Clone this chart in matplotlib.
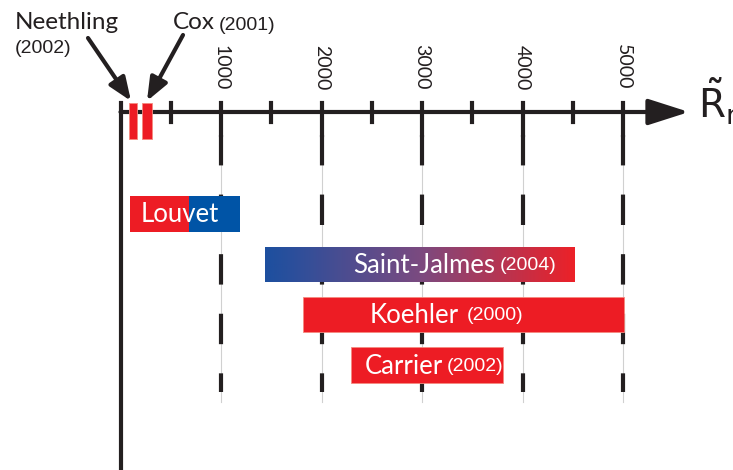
import matplotlib.pyplot as plt
import numpy as np
from matplotlib.colors import LinearSegmentedColormap

# data (R_m ranges)
names = ['Neethling', 'Cox', 'Louvet', 'Saint-Jalmes', 'Koehler', 'Carrier']
years = ['(2002)', '(2001)', '', '(2004)', '(2000)', '(2002)']
r_start = [80, 210, 90, 1435, 1815, 2290]
r_end = [160, 310, 1185, 4510, 5010, 3810]
louvet_split = 685
major_ticks = [1000, 2000, 3000, 4000, 5000]
minor_ticks = [500, 1500, 2500, 3500, 4500]

red = '#ed1c24'
blue = '#0054a6'
ink = '#231f20'
name_font = 'Lato'
year_font = 'Liberation Sans'

# pixel layout: x0 at px 120.5, 0.1005 px per unit, y in pixel rows
px0, scale = 120.5, 0.1005
fig = plt.figure(figsize=(7.33, 4.70), dpi=100)
ax = fig.add_axes([0, 0, 1, 1])
ax.set_xlim(-px0 / scale, (733 - px0) / scale)
ax.set_ylim(470, 0)
ax.axis('off')

def dx(px):
    return (px - px0) / scale

axis_y = 112

# grid lines
for t in major_ticks:
    ax.plot([t, t], [axis_y, 402], color='#d0d0d0', lw=0.8, zorder=1)
    ax.plot([t, t], [135, 392], color=ink, lw=3, zorder=2,
            linestyle=(0, (7.3, 7.0)))
    ax.plot([t, t], [103, 135], color=ink, lw=3, zorder=3)
for t in minor_ticks:
    ax.plot([t, t], [103, 122], color=ink, lw=3, zorder=3)

# axes
ax.plot([0, 0], [103, 470], color=ink, lw=3, zorder=3)
ax.annotate('', xy=(dx(689), axis_y), xytext=(0, axis_y),
            arrowprops=dict(arrowstyle='-|>,head_length=1.0,head_width=0.32',
                            lw=3, color=ink, shrinkA=0, shrinkB=0,
                            mutation_scale=25), zorder=3)
ax.text(dx(698), 119, r'$\tilde{\mathrm{R}}_\mathrm{m}$', fontsize=28, color=ink,
        ha='left', va='baseline', zorder=3)

for t in major_ticks:
    ax.text(t, 90, str(t), rotation=270, ha='center', va='bottom',
            fontsize=14, family=name_font, color=ink)

# small bars on the axis
for i in [0, 1]:
    ax.bar((r_start[i] + r_end[i]) / 2, 36, width=r_end[i] - r_start[i],
           bottom=103, color=red, edgecolor='#f58a80', lw=0.6, zorder=4)

ax.text(dx(15), 29, names[0], fontsize=17.5, family=name_font, color=ink)
ax.text(dx(15), 53, years[0], fontsize=14, family=year_font, color=ink)
ax.text(dx(173), 29, names[1], fontsize=17.5, family=name_font, color=ink)
ax.text(dx(219), 30, years[1], fontsize=14, family=year_font, color=ink)
arrow = dict(arrowstyle='-|>,head_length=1.0,head_width=0.4', lw=3,
             color=ink, shrinkA=0, shrinkB=0, mutation_scale=14)
ax.annotate('', xy=(dx(131), 101), xytext=(dx(88), 38), arrowprops=arrow)
ax.annotate('', xy=(dx(147), 101), xytext=(dx(183), 35), arrowprops=arrow)

# big bars
rows = {2: (196, 232), 3: (247, 282), 4: (297, 332), 5: (347, 383)}

top, bot = rows[2]
ax.bar((r_start[2] + louvet_split) / 2, bot - top, width=louvet_split - r_start[2],
       bottom=top, color=red, lw=0, zorder=4)
ax.bar((louvet_split + r_end[2]) / 2, bot - top, width=r_end[2] - louvet_split,
       bottom=top, color=blue, lw=0, zorder=4)

top, bot = rows[3]
cmap = LinearSegmentedColormap.from_list(
    'sj', [(0, '#1d4f9f'), (0.08, '#2a4f9c'), (0.5, '#7b4a80'), (1, '#ec2128')])
grad = np.linspace(0, 1, 256).reshape(1, -1)
ax.imshow(grad, cmap=cmap, aspect='auto', zorder=4,
          extent=(r_start[3], r_end[3], bot, top))

for i in [4, 5]:
    top, bot = rows[i]
    ax.bar((r_start[i] + r_end[i]) / 2, bot - top, width=r_end[i] - r_start[i],
           bottom=top, color=red, edgecolor='#f58a80', lw=0.6, zorder=4)

# bar labels
name_x = {2: 180, 3: 495, 4: 459, 5: 443}
year_x = {3: 500, 4: 467, 5: 447}
ax.text(dx(name_x[2]), sum(rows[2]) / 2 + 1, names[2], ha='center', va='center',
        fontsize=18.5, family=name_font, color='white', zorder=5)
for i in [3, 4, 5]:
    yc = sum(rows[i]) / 2
    ax.text(dx(name_x[i]), yc + 1, names[i], ha='right', va='center',
            fontsize=18.5, family=name_font, color='white', zorder=5)
    ax.text(dx(year_x[i]), yc + 1.5, years[i], ha='left', va='center',
            fontsize=14, family=year_font, color='white', zorder=5)

fig.savefig('out.png', dpi=100)
